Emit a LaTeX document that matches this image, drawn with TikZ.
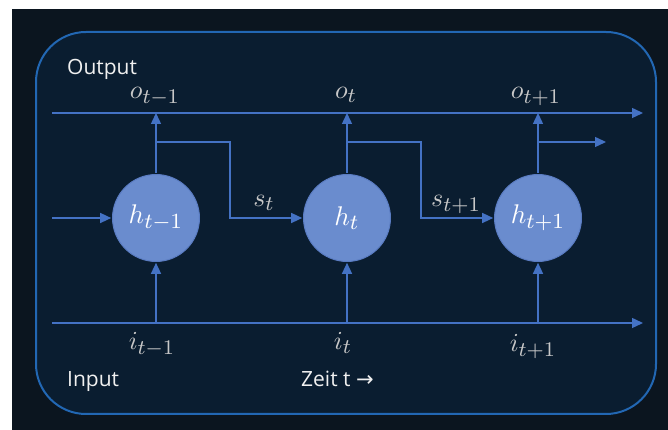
\documentclass[tikz,border=0pt]{standalone}
\usepackage[no-math]{fontspec}
\setmainfont{Open Sans}
\newfontfamily\arrowfont{DejaVu Sans}
\usetikzlibrary{arrows.meta}
\DeclareMathSizes{10}{10}{8}{6}

\definecolor{bgdark}{HTML}{0B151F}
\definecolor{panel}{HTML}{0A1D30}
\definecolor{panelline}{HTML}{2267B3}
\definecolor{wireblue}{HTML}{4472C4}
\definecolor{cellfill}{HTML}{6A8CCE}
\definecolor{cellborder}{HTML}{5A7CC2}
\definecolor{labelgray}{HTML}{C8C8C8}

\begin{document}
\begin{tikzpicture}[x=1pt,y=1pt,
    cell/.style={circle,fill=cellfill,draw=cellborder,line width=1pt,minimum size=32.2pt,
        inner sep=0pt,text=white,scale=2.7},
    lbl/.style={text=labelgray,anchor=base,inner sep=0pt,scale=2.6},
    txt/.style={text=white!94!black,anchor=base west,inner sep=0pt,font=\fontsize{21}{25}\selectfont},
    flow/.style={draw=wireblue,line width=1.4pt,-{Triangle[length=11pt,width=10pt]}}]
        \useasboundingbox (0,0) rectangle (668,430);
        \fill[white] (0,0) rectangle (668,430);
        \fill[bgdark] (12,0) rectangle (668,421);
        \draw[panelline,fill=panel,line width=2pt,rounded corners=50pt] (36,16) rectangle (656,398);

        % hidden states
        \node[cell] (h1) at (156,212) {$h_{t-1}$};
        \node[cell] (h2) at (347,212) {$h_t$};
        \node[cell] (h3) at (538,212) {$h_{t+1}$};

        \coordinate (outL) at (52,317);
        \coordinate (outR) at (643,317);
        \coordinate (inL)  at (52,107);
        \coordinate (inR)  at (643,107);
        \coordinate (k1)   at (230,288);
        \coordinate (k2)   at (421,288);
        \coordinate (k3)   at (606,288);

        \draw[flow] (outL) -- (outR);
        \draw[flow] (inL) -- (inR);
        \draw[flow] (h1.west -| inL) -- (h1.west);

        \draw[flow] (h1.north) -- (h1.north |- outL);
        \draw[flow] (h2.north) -- (h2.north |- outL);
        \draw[flow] (h3.north) -- (h3.north |- outL);
        \draw[flow] (h1.south |- inL) -- (h1.south);
        \draw[flow] (h2.south |- inL) -- (h2.south);
        \draw[flow] (h3.south |- inL) -- (h3.south);

        \draw[flow] (h1.north |- k1) -- (k1) |- (h2.west);
        \draw[flow] (h2.north |- k2) -- (k2) |- (h3.west);
        \draw[flow] (h3.north |- k3) -- (k3);

        % labels
        \node[lbl] (o1) at (155,331) {$o_{t-1}$};
        \node[lbl] (o2) at (346,331) {$o_t$};
        \node[lbl] (o3) at (536,331) {$o_{t+1}$};
        \node[lbl] (s2) at (264,223) {$s_t$};
        \node[lbl] (s3) at (456,223) {$s_{t+1}$};
        \node[lbl] (i1) at (152,80) {$i_{t-1}$};
        \node[lbl] (i2) at (343,80) {$i_t$};
        \node[lbl] (i3) at (533,78) {$i_{t+1}$};

        \node[txt] (out)  at (67,355) {Output};
        \node[txt] (in)   at (67,43)  {Input};
        \node[txt] (zeit) at (301,43) {Zeit t {\arrowfont →}};
    \end{tikzpicture}
\end{document}
